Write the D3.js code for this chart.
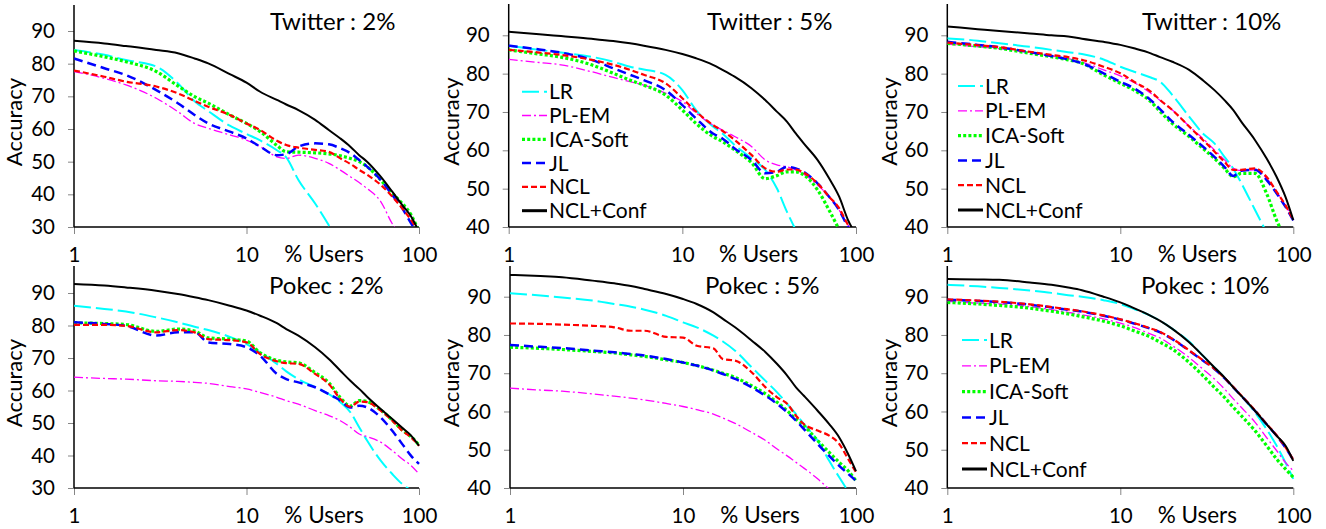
<!DOCTYPE html>
<html>
<head>
<meta charset="utf-8">
<script src="https://cdnjs.cloudflare.com/ajax/libs/d3/7.8.5/d3.min.js"></script>
<style>
body{margin:0;background:#fff;}
svg text{font-family:Lato, "Open Sans", sans-serif;fill:#000;}
</style>
</head>
<body>
<svg id="chart" width="1326" height="529"></svg>
<script>
// % users (x axis, log scale)
var users = [1, 1.5, 2, 3, 4, 5, 6, 8, 10, 12, 15, 17, 20, 25, 30, 35, 40, 45, 50, 60, 70, 80, 90, 100];
var methods = ["LR", "PL-EM", "ICA-Soft", "JL", "NCL", "NCL+Conf"];
var xTicks = [1, 10, 100];
var titles = ["Twitter : 2%", "Twitter : 5%", "Twitter : 10%", "Pokec : 2%", "Pokec : 5%", "Pokec : 10%"];

// rows follow the methods order, null = below the axis
var twitter2 = [
  [84.2, 82.7, 81.1, 79.1, 74.0, 68.5, 65.5, 61.0, 58.5, 56.5, 53.5, 51.3, 44.4, 37.2, 30.5, 24.0, null, null, null, null, null, null, null, null],
  [77.6, 75.5, 73.5, 69.4, 65.3, 61.7, 60.2, 58.2, 56.6, 54.6, 51.5, 51.0, 52.0, 51.0, 49.5, 47.4, 45.4, 43.6, 41.8, 37.8, 31.0, 27.0, null, null],
  [83.9, 82.1, 80.6, 77.6, 73.2, 69.9, 67.9, 64.3, 61.7, 59.2, 55.0, 53.0, 52.9, 52.7, 52.4, 51.8, 51.0, 50.0, 48.5, 44.4, 40.3, 37.2, 33.7, 28.5],
  [81.6, 78.6, 76.5, 71.9, 67.9, 64.3, 61.7, 59.2, 57.1, 54.6, 52.0, 52.3, 54.6, 55.6, 55.3, 54.1, 52.6, 50.5, 48.5, 44.4, 39.8, 35.7, 31.1, 27.5],
  [77.9, 76.0, 74.5, 73.0, 70.9, 68.6, 66.8, 64.3, 61.7, 59.7, 56.4, 55.1, 54.3, 53.6, 53.0, 51.0, 49.3, 47.5, 46.0, 42.9, 39.3, 35.7, 32.1, 28.5],
  [87.0, 86.2, 85.4, 84.2, 83.2, 81.6, 80.1, 76.8, 74.2, 71.4, 68.9, 67.5, 65.8, 62.8, 59.7, 57.1, 54.6, 52.0, 50.0, 45.4, 40.8, 36.7, 33.2, 28.5]
];
var twitter5 = [
  [87.3, 86.2, 85.5, 84.4, 83.1, 81.8, 81.1, 79.7, 75.7, 70.5, 66.2, 64.4, 61.4, 57.9, 54.9, 50.1, 44.0, 39.2, null, null, null, null, null, null],
  [83.7, 82.9, 82.3, 80.5, 79.0, 77.9, 77.0, 74.9, 72.7, 69.7, 66.6, 65.3, 63.6, 61.0, 57.5, 56.2, 55.7, 54.9, 53.8, 51.0, 47.9, 44.4, 40.5, 38.0],
  [86.2, 85.1, 84.3, 82.3, 80.1, 78.3, 77.0, 74.4, 70.5, 67.0, 63.6, 62.3, 60.1, 56.8, 52.6, 53.4, 54.4, 54.4, 53.6, 49.7, 44.4, 39.3, null, null],
  [87.3, 86.3, 85.5, 83.6, 81.4, 79.7, 78.3, 75.7, 71.8, 68.3, 64.4, 63.1, 60.5, 57.5, 54.0, 54.4, 55.7, 55.3, 54.4, 51.4, 47.9, 44.4, 40.0, 37.0],
  [86.2, 85.5, 84.9, 83.6, 82.3, 81.0, 79.7, 77.5, 73.6, 70.1, 66.6, 65.1, 62.7, 58.8, 55.3, 54.4, 55.0, 55.0, 54.2, 51.4, 47.9, 44.9, 40.5, 37.5],
  [90.9, 90.3, 89.8, 89.1, 88.5, 87.9, 87.3, 86.2, 85.1, 84.0, 82.3, 81.0, 79.2, 76.2, 73.1, 70.1, 67.5, 64.4, 61.8, 57.5, 52.7, 47.9, 41.8, 38.0]
];
var twitter10 = [
  [89.2, 88.6, 87.9, 87.0, 86.2, 85.6, 85.1, 83.7, 81.8, 80.5, 79.0, 77.9, 74.4, 68.8, 64.4, 61.8, 58.3, 55.2, 51.5, 44.5, 38.6, null, null, null],
  [87.7, 87.0, 86.5, 85.5, 84.6, 83.9, 83.0, 81.0, 79.4, 77.7, 74.9, 73.0, 70.5, 66.3, 63.1, 60.1, 57.5, 55.3, 54.7, 54.9, 52.7, 49.2, 45.7, 41.8],
  [87.9, 87.2, 86.6, 85.3, 84.4, 83.6, 82.7, 79.7, 77.5, 75.7, 72.7, 70.1, 67.0, 63.6, 60.5, 57.9, 55.3, 53.1, 54.0, 54.0, 48.8, 41.8, 37.0, null],
  [88.3, 87.5, 86.9, 85.6, 84.6, 83.7, 82.7, 80.1, 77.9, 76.2, 73.1, 70.7, 67.5, 64.0, 61.0, 58.3, 55.7, 53.3, 54.7, 54.9, 52.3, 48.8, 45.3, 41.7],
  [88.1, 87.4, 86.9, 85.7, 84.9, 84.3, 83.6, 81.8, 80.1, 77.9, 75.3, 73.1, 70.5, 66.2, 62.7, 59.7, 57.0, 54.9, 54.9, 55.3, 53.1, 49.2, 45.7, 41.8],
  [92.3, 91.6, 91.1, 90.5, 90.0, 89.7, 89.1, 88.3, 87.5, 86.6, 85.3, 84.3, 83.1, 81.0, 78.3, 75.7, 73.1, 70.5, 67.5, 62.7, 57.9, 53.1, 47.9, 41.8]
];
var pokec2 = [
  [86.1, 85.1, 84.3, 82.5, 81.0, 79.6, 78.6, 76.5, 74.3, 71.7, 68.2, 65.9, 63.5, 61.0, 58.9, 56.4, 53.3, 48.7, 44.6, 38.4, 34.3, 31.2, 29.3, null],
  [64.1, 63.7, 63.5, 63.0, 62.8, 62.5, 62.2, 61.2, 60.5, 59.4, 57.9, 56.9, 55.8, 53.8, 52.3, 50.7, 48.7, 46.6, 45.8, 44.1, 41.5, 38.9, 36.9, 34.3],
  [80.8, 80.6, 80.3, 78.2, 78.9, 78.3, 76.2, 75.8, 75.2, 71.6, 69.3, 68.8, 68.5, 65.5, 62.4, 57.8, 55.2, 56.9, 56.6, 54.0, 50.9, 47.8, 45.8, 43.2],
  [81.0, 80.5, 79.9, 76.9, 77.9, 77.9, 74.8, 74.3, 73.3, 70.7, 65.1, 63.5, 62.5, 61.0, 58.9, 56.9, 54.8, 55.3, 54.8, 51.7, 47.6, 43.5, 39.9, 37.4],
  [80.2, 80.2, 79.9, 77.9, 78.6, 77.9, 75.8, 75.5, 74.8, 71.2, 69.0, 68.4, 68.2, 65.1, 62.0, 57.4, 55.0, 56.6, 56.4, 53.8, 50.7, 47.6, 45.6, 43.0],
  [92.8, 92.3, 91.7, 90.7, 89.7, 88.7, 87.8, 86.1, 84.6, 83.0, 80.7, 78.9, 76.9, 73.3, 69.7, 66.1, 63.0, 60.5, 58.1, 54.3, 51.2, 48.5, 46.1, 43.0]
];
var pokec5 = [
  [90.9, 90.3, 89.8, 89.0, 88.1, 87.4, 86.6, 85.0, 83.3, 82.0, 79.8, 78.3, 75.9, 71.5, 68.0, 65.0, 62.0, 59.3, 56.7, 52.4, 47.1, 42.8, 39.2, null],
  [66.1, 65.6, 65.3, 64.6, 64.0, 63.5, 63.0, 62.1, 61.3, 60.5, 59.3, 58.3, 56.9, 54.5, 52.4, 50.2, 48.4, 46.7, 45.2, 42.4, 39.7, 37.5, null, null],
  [76.8, 76.5, 76.2, 75.7, 75.3, 74.8, 74.4, 73.5, 72.8, 72.0, 70.8, 70.0, 68.9, 66.7, 64.6, 62.4, 60.2, 58.0, 56.3, 52.4, 49.3, 46.7, 44.5, 41.9],
  [77.4, 76.9, 76.6, 75.9, 75.5, 75.0, 74.6, 73.7, 72.8, 72.0, 70.7, 69.8, 68.5, 66.3, 64.1, 62.0, 59.8, 57.6, 55.4, 51.5, 48.4, 45.8, 43.7, 41.9],
  [83.0, 82.9, 82.7, 82.4, 82.0, 81.1, 81.1, 79.5, 79.3, 77.2, 76.5, 73.7, 73.3, 70.2, 66.3, 63.7, 62.0, 58.9, 56.7, 55.0, 53.7, 51.5, 47.6, 44.1],
  [95.7, 95.4, 95.1, 94.2, 93.5, 92.8, 92.0, 90.7, 89.4, 88.1, 85.9, 84.2, 82.0, 78.5, 75.5, 72.4, 69.4, 66.3, 64.1, 60.2, 56.7, 53.2, 48.9, 44.4]
];
var pokec10 = [
  [93.1, 92.7, 92.3, 91.6, 91.0, 90.4, 90.0, 89.1, 88.1, 86.8, 85.0, 83.7, 81.6, 78.3, 74.6, 71.5, 68.9, 66.3, 64.1, 59.8, 55.4, 51.1, 46.7, 42.4],
  [88.8, 88.3, 88.1, 87.4, 86.6, 85.9, 85.3, 84.2, 83.1, 82.0, 80.2, 79.2, 77.2, 74.1, 71.1, 68.5, 65.9, 63.3, 61.1, 57.2, 53.2, 49.8, 46.7, 44.5],
  [88.5, 88.1, 87.7, 87.0, 86.2, 85.5, 84.8, 83.6, 82.4, 81.1, 79.4, 78.1, 76.3, 72.8, 69.4, 66.3, 63.7, 61.1, 58.9, 55.0, 51.1, 47.6, 45.0, 42.8],
  [89.2, 88.9, 88.6, 87.9, 87.2, 86.6, 86.1, 85.0, 84.0, 83.0, 81.6, 80.7, 78.9, 75.9, 73.3, 71.1, 68.7, 66.3, 64.1, 60.2, 56.7, 53.7, 50.6, 47.3],
  [89.3, 89.0, 88.7, 88.0, 87.3, 86.7, 86.2, 85.1, 84.1, 83.1, 81.7, 80.8, 79.0, 76.0, 73.4, 71.2, 68.8, 66.4, 64.2, 60.3, 56.8, 53.8, 50.7, 47.4],
  [94.6, 94.5, 94.4, 93.7, 93.1, 92.4, 91.7, 90.0, 88.5, 87.0, 85.0, 83.7, 81.6, 78.1, 74.6, 71.5, 68.9, 66.3, 64.1, 60.2, 56.7, 53.7, 51.1, 47.1]
];

// line look per method
var lineStyle = [
  {color: "#00FFFF", width: 2,   dash: "17,5"},
  {color: "#FF00FF", width: 1.3, dash: "9,3,2,3"},
  {color: "#00FF00", width: 3.2, dash: "3,2.2"},
  {color: "#0000FF", width: 2.5, dash: "9,5"},
  {color: "#FF0000", width: 2.2, dash: "6,3"},
  {color: "#000000", width: 2,   dash: null}
];

// panel placement
var panels = [
  {data: twitter2,  left: 74,    right: 419,    top: 5,   bottom: 227, y90: 31,    ymin: 30, titleX: 270,  titleY: 30,  ylabX: 22,  legend: null},
  {data: twitter5,  left: 508.7, right: 856,    top: 4,   bottom: 227, y90: 35.3,  ymin: 40, titleX: 707,  titleY: 30,  ylabX: 459, legend: {x: 522, y: 91.7, step: 23.8}},
  {data: twitter10, left: 947.3, right: 1293.3, top: 4,   bottom: 227, y90: 35.3,  ymin: 40, titleX: 1142, titleY: 30,  ylabX: 897, legend: {x: 958, y: 86, step: 24.8}},
  {data: pokec2,    left: 74,    right: 419,    top: 266, bottom: 488, y90: 293,   ymin: 30, titleX: 269,  titleY: 294, ylabX: 22,  legend: null},
  {data: pokec5,    left: 510,   right: 856,    top: 266, bottom: 488, y90: 296.7, ymin: 40, titleX: 705,  titleY: 294, ylabX: 459, legend: null},
  {data: pokec10,   left: 947.3, right: 1293.3, top: 266, bottom: 488, y90: 296.7, ymin: 40, titleX: 1141, titleY: 294, ylabX: 897, legend: {x: 962, y: 340, step: 25.8}}
];

var svg = d3.select("#chart");

panels.forEach(function(p, i){
  var x = d3.scaleLog().domain([1, 100]).range([p.left, p.right]);
  var y = d3.scaleLinear().domain([p.ymin, 90]).range([p.bottom, p.y90]);
  var g = svg.append("g");

  g.append("clipPath").attr("id", "clip" + i)
    .append("rect")
    .attr("x", p.left).attr("y", p.top)
    .attr("width", p.right - p.left + 3).attr("height", p.bottom - p.top);

  // y axis ticks + labels
  var ya = g.append("g")
    .attr("transform", "translate(" + p.left + ",0)")
    .call(d3.axisLeft(y).tickValues(d3.range(p.ymin, 91, 10)).tickSize(6).tickPadding(13));
  ya.select(".domain").remove();
  ya.selectAll(".tick line").attr("stroke", "#868686");
  ya.selectAll(".tick text").style("font-size", "20.5px").style("font-family", "Lato");

  // x axis ticks + labels
  var xa = g.append("g")
    .attr("transform", "translate(0," + p.bottom + ")")
    .call(d3.axisBottom(x).tickValues(xTicks).tickFormat(d3.format("d")).tickSize(7).tickPadding(13));
  xa.select(".domain").remove();
  xa.selectAll(".tick line").attr("stroke", "#868686");
  xa.selectAll(".tick text").style("font-size", "20.5px").style("font-family", "Lato");

  // axis lines
  g.append("line")
    .attr("x1", p.left).attr("x2", p.left).attr("y1", p.top).attr("y2", p.bottom)
    .attr("stroke", "#000").attr("stroke-width", 1.5);
  g.append("line")
    .attr("x1", p.left).attr("x2", p.right).attr("y1", p.bottom).attr("y2", p.bottom)
    .attr("stroke", "#000").attr("stroke-width", 1.5);

  var line = d3.line()
    .defined(function(d){ return d[1] != null; })
    .x(function(d){ return x(d[0]); })
    .y(function(d){ return y(d[1]); })
    .curve(d3.curveMonotoneX);

  var lines = g.append("g").attr("clip-path", "url(#clip" + i + ")");
  p.data.forEach(function(vals, k){
    var st = lineStyle[k];
    lines.append("path")
      .datum(users.map(function(u, j){ return [u, vals[j]]; }))
      .attr("d", line)
      .attr("fill", "none")
      .attr("stroke", st.color)
      .attr("stroke-width", st.width)
      .attr("stroke-dasharray", st.dash);
  });

  // title
  g.append("text")
    .attr("x", p.titleX).attr("y", p.titleY)
    .style("font-size", "24px")
    .text(titles[i]);

  // axis titles
  g.append("text")
    .attr("transform", "translate(" + p.ylabX + "," + ((p.top + p.bottom) / 2 + 6) + ") rotate(-90)")
    .attr("text-anchor", "middle")
    .style("font-size", "22px")
    .text("Accuracy");
  g.append("text")
    .attr("x", p.left + 250).attr("y", p.bottom + 35)
    .attr("text-anchor", "middle")
    .style("font-size", "22.5px")
    .text("% Users");

  // legend
  if (p.legend) {
    methods.forEach(function(m, k){
      var st = lineStyle[k];
      var ly = p.legend.y + k * p.legend.step;
      g.append("line")
        .attr("x1", p.legend.x).attr("x2", p.legend.x + 25)
        .attr("y1", ly).attr("y2", ly)
        .attr("stroke", st.color)
        .attr("stroke-width", k === 5 ? 3 : st.width)
        .attr("stroke-dasharray", st.dash);
      g.append("text")
        .attr("x", p.legend.x + 27).attr("y", ly)
        .attr("dy", "0.36em")
        .style("font-size", "21px")
        .text(m);
    });
  }
});
</script>
</body>
</html>
